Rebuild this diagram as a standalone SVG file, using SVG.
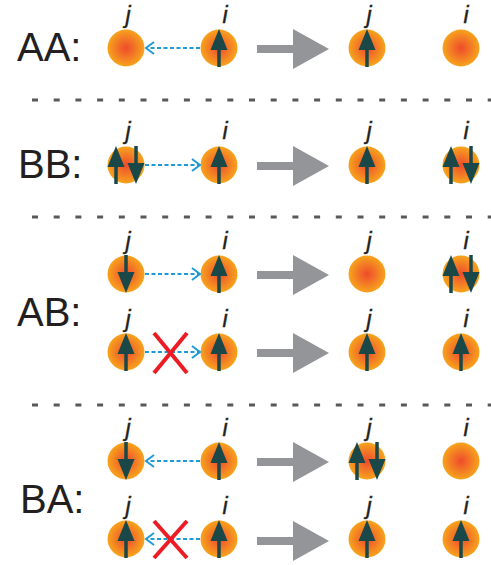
<svg xmlns="http://www.w3.org/2000/svg" xmlns:xlink="http://www.w3.org/1999/xlink" width="491" height="565" viewBox="0 0 491 565">
<style>
.row{font-family:"Liberation Sans",Arial,sans-serif;font-size:40px;fill:#231f20}
.lbl{font-family:"Liberation Sans",Arial,sans-serif;font-size:23px;font-style:italic;fill:#231f20;stroke:#231f20;stroke-width:0.4;text-anchor:middle}
.div{stroke:#58595b;stroke-width:3;stroke-dasharray:6 15.7;fill:none}
.hop{stroke:#1e9ad6;stroke-width:2;stroke-dasharray:4 2.5;fill:none}
.x{stroke:#ed1c24;stroke-width:4;stroke-linecap:butt}
.big{fill:#939598}
.spin{stroke:#1a4848;stroke-width:3.5}
.head{fill:#1a4848}
</style>
<defs>
<radialGradient id="g" cx="0.5" cy="0.5" r="0.5">
<stop offset="0" stop-color="#ef4b2b"/>
<stop offset="0.55" stop-color="#f37b25"/>
<stop offset="1" stop-color="#f7a41c"/>
</radialGradient>
<marker id="chev" viewBox="0 0 10 14" refX="9" refY="7" markerWidth="10" markerHeight="14" markerUnits="userSpaceOnUse" orient="auto">
<path d="M1,1 L9,7 L1,13" fill="none" stroke="#1e9ad6" stroke-width="2"/>
</marker>
<g id="site"><circle r="18.5" fill="url(#g)"/></g>
<g id="up"><line class="spin" x1="0" y1="19" x2="0" y2="0"/><polygon class="head" points="0,-19 8.5,2 -8.5,2"/></g>
<g id="down"><line class="spin" x1="0" y1="-19" x2="0" y2="0"/><polygon class="head" points="0,19 8.5,-2 -8.5,-2"/></g>
<g id="pair"><use xlink:href="#up" x="-10"/><use xlink:href="#down" x="10"/></g>
<g id="go"><rect x="0" y="-4" width="37" height="8" class="big"/><polygon class="big" points="36,-20 72,0 36,20"/></g>
</defs>

<g id="row-labels">
<text class="row" x="17" y="61">AA:</text>
<text class="row" x="18" y="178">BB:</text>
<text class="row" x="17" y="326">AB:</text>
<text class="row" x="20" y="513">BA:</text>
</g>

<g id="dividers">
<line class="div" x1="32" y1="100" x2="491" y2="100"/>
<line class="div" x1="32" y1="217" x2="491" y2="217"/>
<line class="div" x1="32" y1="405" x2="491" y2="405"/>
</g>

<g id="site-labels">
<text class="lbl" x="128" y="23">j</text><text class="lbl" x="225" y="23">i</text>
<text class="lbl" x="369" y="23">j</text><text class="lbl" x="466" y="23">i</text>
<text class="lbl" x="128" y="139">j</text><text class="lbl" x="225" y="139">i</text>
<text class="lbl" x="369" y="139">j</text><text class="lbl" x="466" y="139">i</text>
<text class="lbl" x="128" y="249">j</text><text class="lbl" x="225" y="249">i</text>
<text class="lbl" x="369" y="249">j</text><text class="lbl" x="466" y="249">i</text>
<text class="lbl" x="128" y="327">j</text><text class="lbl" x="225" y="327">i</text>
<text class="lbl" x="369" y="327">j</text><text class="lbl" x="466" y="327">i</text>
<text class="lbl" x="128" y="436">j</text><text class="lbl" x="225" y="436">i</text>
<text class="lbl" x="369" y="436">j</text><text class="lbl" x="466" y="436">i</text>
<text class="lbl" x="128" y="514">j</text><text class="lbl" x="225" y="514">i</text>
<text class="lbl" x="369" y="514">j</text><text class="lbl" x="466" y="514">i</text>
</g>

<!-- AA -->
<g id="aa-j"><use xlink:href="#site" x="126" y="48"/></g>
<g id="aa-i"><use xlink:href="#site" x="219" y="48"/><use xlink:href="#up" x="219" y="48"/></g>
<g id="aa-j2"><use xlink:href="#site" x="367" y="48"/><use xlink:href="#up" x="367" y="48"/></g>
<g id="aa-i2"><use xlink:href="#site" x="461" y="48"/></g>
<!-- BB -->
<g id="bb-j"><use xlink:href="#site" x="126" y="165"/><use xlink:href="#pair" x="126" y="165"/></g>
<g id="bb-i"><use xlink:href="#site" x="219" y="165"/><use xlink:href="#up" x="219" y="165"/></g>
<g id="bb-j2"><use xlink:href="#site" x="367" y="165"/><use xlink:href="#up" x="367" y="165"/></g>
<g id="bb-i2"><use xlink:href="#site" x="461" y="165"/><use xlink:href="#pair" x="461" y="165"/></g>
<!-- AB 1 -->
<g id="ab1-j"><use xlink:href="#site" x="126" y="274"/><use xlink:href="#down" x="126" y="274"/></g>
<g id="ab1-i"><use xlink:href="#site" x="219" y="274"/><use xlink:href="#up" x="219" y="274"/></g>
<g id="ab1-j2"><use xlink:href="#site" x="367" y="274"/></g>
<g id="ab1-i2"><use xlink:href="#site" x="461" y="274"/><use xlink:href="#pair" x="461" y="274"/></g>
<!-- AB 2 -->
<g id="ab2-j"><use xlink:href="#site" x="126" y="352"/><use xlink:href="#up" x="126" y="352"/></g>
<g id="ab2-i"><use xlink:href="#site" x="219" y="352"/><use xlink:href="#up" x="219" y="352"/></g>
<g id="ab2-j2"><use xlink:href="#site" x="367" y="352"/><use xlink:href="#up" x="367" y="352"/></g>
<g id="ab2-i2"><use xlink:href="#site" x="461" y="352"/><use xlink:href="#up" x="461" y="352"/></g>
<!-- BA 1 -->
<g id="ba1-j"><use xlink:href="#site" x="126" y="461"/><use xlink:href="#down" x="126" y="461"/></g>
<g id="ba1-i"><use xlink:href="#site" x="219" y="461"/><use xlink:href="#up" x="219" y="461"/></g>
<g id="ba1-j2"><use xlink:href="#site" x="367" y="461"/><use xlink:href="#pair" x="367" y="461"/></g>
<g id="ba1-i2"><use xlink:href="#site" x="461" y="461"/></g>
<!-- BA 2 -->
<g id="ba2-j"><use xlink:href="#site" x="126" y="539"/><use xlink:href="#up" x="126" y="539"/></g>
<g id="ba2-i"><use xlink:href="#site" x="219" y="539"/><use xlink:href="#up" x="219" y="539"/></g>
<g id="ba2-j2"><use xlink:href="#site" x="367" y="539"/><use xlink:href="#up" x="367" y="539"/></g>
<g id="ba2-i2"><use xlink:href="#site" x="461" y="539"/><use xlink:href="#up" x="461" y="539"/></g>

<g id="connectors">
<line class="hop" x1="200" y1="48" x2="146" y2="48" marker-end="url(#chev)"/>
<line class="hop" x1="145" y1="165" x2="200" y2="165" marker-end="url(#chev)"/>
<line class="hop" x1="145" y1="274" x2="200" y2="274" marker-end="url(#chev)"/>
<line class="hop" x1="145" y1="352" x2="200" y2="352" marker-end="url(#chev)"/>
<line class="hop" x1="200" y1="461" x2="146" y2="461" marker-end="url(#chev)"/>
<line class="hop" x1="200" y1="539" x2="146" y2="539" marker-end="url(#chev)"/>
<line class="x" x1="154" y1="333" x2="187" y2="373"/><line class="x" x1="187" y1="333" x2="154" y2="373"/>
<line class="x" x1="154" y1="521" x2="187" y2="558"/><line class="x" x1="187" y1="521" x2="154" y2="558"/>
<use xlink:href="#go" x="257" y="49"/>
<use xlink:href="#go" x="257" y="166"/>
<use xlink:href="#go" x="257" y="275"/>
<use xlink:href="#go" x="257" y="353"/>
<use xlink:href="#go" x="257" y="462"/>
<use xlink:href="#go" x="257" y="541"/>
</g>
</svg>
